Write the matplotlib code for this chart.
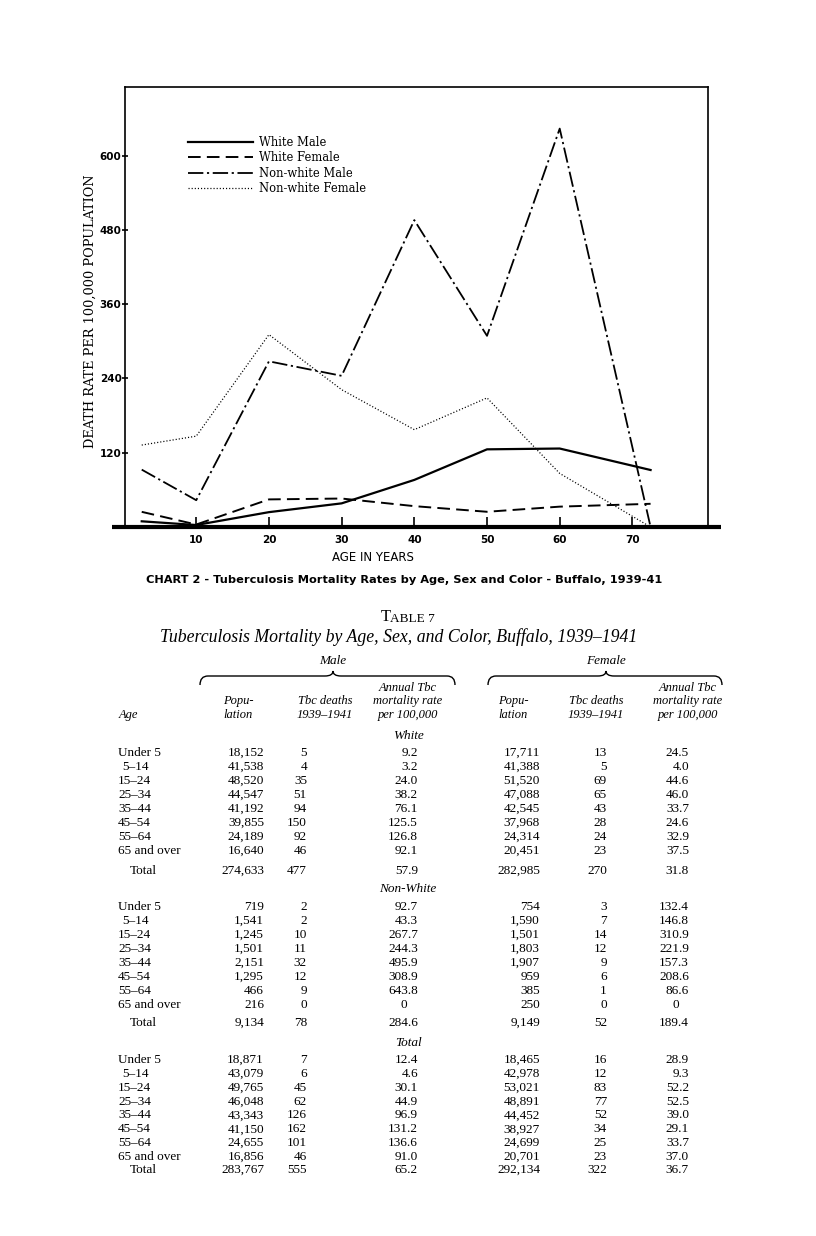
import matplotlib
matplotlib.use("Agg")
import matplotlib.pyplot as plt
from matplotlib.path import Path
from matplotlib.patches import PathPatch

# ---------------- data ----------------
ages = ["Under 5", "5–14", "15–24", "25–34", "35–44", "45–54", "55–64", "65 and over"]
chart_age = [2.5, 10, 20, 30, 40, 50, 60, 72.5]
x_ticks = [10, 20, 30, 40, 50, 60, 70]
y_ticks = [120, 240, 360, 480, 600]

# White
white_male_pop = [18152, 41538, 48520, 44547, 41192, 39855, 24189, 16640]
white_male_deaths = [5, 4, 35, 51, 94, 150, 92, 46]
white_male_rate = [9.2, 3.2, 24.0, 38.2, 76.1, 125.5, 126.8, 92.1]
white_female_pop = [17711, 41388, 51520, 47088, 42545, 37968, 24314, 20451]
white_female_deaths = [13, 5, 69, 65, 43, 28, 24, 23]
white_female_rate = [24.5, 4.0, 44.6, 46.0, 33.7, 24.6, 32.9, 37.5]
white_total = [274633, 477, 57.9, 282985, 270, 31.8]

# Non-white
nonwhite_male_pop = [719, 1541, 1245, 1501, 2151, 1295, 466, 216]
nonwhite_male_deaths = [2, 2, 10, 11, 32, 12, 9, 0]
nonwhite_male_rate = [92.7, 43.3, 267.7, 244.3, 495.9, 308.9, 643.8, 0]
nonwhite_female_pop = [754, 1590, 1501, 1803, 1907, 959, 385, 250]
nonwhite_female_deaths = [3, 7, 14, 12, 9, 6, 1, 0]
nonwhite_female_rate = [132.4, 146.8, 310.9, 221.9, 157.3, 208.6, 86.6, 0]
nonwhite_total = [9134, 78, 284.6, 9149, 52, 189.4]

# Total
total_male_pop = [18871, 43079, 49765, 46048, 43343, 41150, 24655, 16856]
total_male_deaths = [7, 6, 45, 62, 126, 162, 101, 46]
total_male_rate = [12.4, 4.6, 30.1, 44.9, 96.9, 131.2, 136.6, 91.0]
total_female_pop = [18465, 42978, 53021, 48891, 44452, 38927, 24699, 20701]
total_female_deaths = [16, 12, 83, 77, 52, 34, 25, 23]
total_female_rate = [28.9, 9.3, 52.2, 52.5, 39.0, 29.1, 33.7, 37.0]
total_total = [283767, 555, 65.2, 292134, 322, 36.7]

# ---------------- figure ----------------
W, H = 816, 1236
fig = plt.figure(figsize=(W / 100, H / 100), dpi=100)
fig.patch.set_facecolor("white")


def fx(x):
    return x / W


def fy(y):
    return 1 - y / H


# ---------------- chart ----------------
AX_L, AX_R, AX_T, AX_B = 125, 708, 87, 527
ax = fig.add_axes([fx(AX_L), fy(AX_B), (AX_R - AX_L) / W, (AX_B - AX_T) / H])
ax.set_xlim(0.2, 80.4)
ax.set_ylim(0, 711)
for s in ["left", "top", "right"]:
    ax.spines[s].set_linewidth(1.2)
ax.spines["bottom"].set_visible(False)
ax.plot([-1.58, 82.2], [0, 0], color="black", lw=3.0, clip_on=False,
        solid_capstyle="butt", zorder=5)

ax.plot(chart_age, white_male_rate, color="black", lw=1.6, label="White Male")
ax.plot(chart_age, white_female_rate, color="black", lw=1.4,
        dashes=(6.5, 3.2), label="White Female")
ax.plot(chart_age, nonwhite_male_rate, color="black", lw=1.3,
        dashes=(8.5, 2.0, 1.2, 2.0), label="Non-white Male")
ax.plot(chart_age, nonwhite_female_rate, color="black", lw=0.9,
        dashes=(0.9, 1.6), label="Non-white Female")

ax.set_xticks(x_ticks)
ax.set_yticks(y_ticks)
ax.tick_params(axis="y", direction="inout", length=5, width=1.2, labelsize=7.5, pad=0)
ax.tick_params(axis="x", direction="in", length=7, width=1.2, labelsize=7.5, pad=6)
for lab in ax.get_xticklabels() + ax.get_yticklabels():
    lab.set_fontfamily("DejaVu Sans")
    lab.set_fontweight("bold")

ax.set_ylabel("DEATH RATE PER 100,000 POPULATION", fontsize=9.3,
              family="DejaVu Serif")
ax.yaxis.set_label_coords(-(AX_L - 97) / (AX_R - AX_L), (AX_B - 311) / (AX_B - AX_T))
ax.set_xlabel("AGE IN YEARS", fontsize=8.5, family="DejaVu Sans")
ax.xaxis.set_label_coords((373 - AX_L) / (AX_R - AX_L), -(551 - AX_B) / (AX_B - AX_T))

leg = ax.legend(loc="upper left", bbox_to_anchor=(fx(188), fy(136)),
                bbox_transform=fig.transFigure, frameon=False,
                prop={"family": "DejaVu Serif", "size": 8.3},
                handlelength=5.6, handletextpad=0.6, labelspacing=0.2,
                borderpad=0, borderaxespad=0)

fig.text(fx(404), fy(580), "CHART 2 - Tuberculosis Mortality Rates by Age, Sex and Color - Buffalo, 1939-41",
         ha="center", va="center", fontsize=8.2, family="DejaVu Sans", fontweight="bold")

# ---------------- table ----------------
serif = "Liberation Serif"
fig.text(fx(381), fy(617), "T", ha="left", va="center", fontsize=12, family=serif)
fig.text(fx(390), fy(618.5), "ABLE 7", ha="left", va="center", fontsize=9.5, family=serif)
fig.text(fx(399), fy(637), "Tuberculosis Mortality by Age, Sex, and Color, Buffalo, 1939–1941",
         ha="center", va="center", fontsize=12.8, family=serif, style="italic")

fig.text(fx(333), fy(661), "Male", ha="center", va="center", fontsize=9.5, family=serif, style="italic")
fig.text(fx(606), fy(661), "Female", ha="center", va="center", fontsize=9.5, family=serif, style="italic")


def brace(x0, x1, xm, ytop, yend, tip):
    r = 8
    verts = [(x0, yend), (x0, ytop), (x0 + r, ytop),
             (xm - r, ytop), (xm, ytop), (xm, ytop - tip),
             (xm, ytop), (xm + r, ytop),
             (x1 - r, ytop), (x1, ytop), (x1, yend)]
    codes = [Path.MOVETO, Path.CURVE3, Path.CURVE3,
             Path.LINETO, Path.CURVE3, Path.CURVE3,
             Path.CURVE3, Path.CURVE3,
             Path.LINETO, Path.CURVE3, Path.CURVE3]
    verts = [(fx(a), fy(b)) for a, b in verts]
    fig.add_artist(PathPatch(Path(verts, codes), transform=fig.transFigure,
                             fill=False, lw=1.0, color="black"))


brace(200, 455, 333, 676, 685, 5)
brace(488, 722, 606, 676, 685, 5)

hdr = dict(ha="center", va="center", fontsize=9, family=serif, style="italic")
fig.text(fx(128), fy(715), "Age", **hdr)
for xc in (238, 513):
    fig.text(fx(xc), fy(701), "Popu-", **hdr)
    fig.text(fx(xc), fy(715), "lation", **hdr)
for xc in (325, 596):
    fig.text(fx(xc), fy(701), "Tbc deaths", **hdr)
    fig.text(fx(xc), fy(715), "1939–1941", **hdr)
for xc in (408, 688):
    fig.text(fx(xc), fy(688), "Annual Tbc", **hdr)
    fig.text(fx(xc), fy(701), "mortality rate", **hdr)
    fig.text(fx(xc), fy(715), "per 100,000", **hdr)

col_right = [264, 307, 418, 540, 607, 689]
zero_center = [None, None, 404, None, None, 676]


def fmt_pop(v):
    return f"{v:,}"


def fmt_rate(v):
    return "0" if v == 0 else f"{v:.1f}"


row_kw = dict(va="center", fontsize=9.5, family=serif)


def section(title, y_title, y0, y_total, cols, totals):
    fig.text(fx(408), fy(y_title), title, ha="center", va="center",
             fontsize=9.5, family=serif, style="italic")
    step = (y0[1] - y0[0]) / 7
    for i, age in enumerate(ages):
        y = y0[0] + i * step
        xa = 122 if age == "5–14" else 118
        fig.text(fx(xa), fy(y), age, ha="left", **row_kw)
        vals = [fmt_pop(cols[0][i]), str(cols[1][i]), fmt_rate(cols[2][i]),
                fmt_pop(cols[3][i]), str(cols[4][i]), fmt_rate(cols[5][i])]
        for j, s in enumerate(vals):
            if s == "0" and zero_center[j] is not None:
                fig.text(fx(zero_center[j]), fy(y), s, ha="center", **row_kw)
            else:
                fig.text(fx(col_right[j]), fy(y), s, ha="right", **row_kw)
    fig.text(fx(130), fy(y_total), "Total", ha="left", **row_kw)
    tv = [fmt_pop(totals[0]), str(totals[1]), fmt_rate(totals[2]),
          fmt_pop(totals[3]), str(totals[4]), fmt_rate(totals[5])]
    for j, s in enumerate(tv):
        fig.text(fx(col_right[j]), fy(y_total), s, ha="right", **row_kw)


section("White", 736, (753, 851), 871,
        [white_male_pop, white_male_deaths, white_male_rate,
         white_female_pop, white_female_deaths, white_female_rate], white_total)
section("Non-White", 889, (907, 1005), 1023,
        [nonwhite_male_pop, nonwhite_male_deaths, nonwhite_male_rate,
         nonwhite_female_pop, nonwhite_female_deaths, nonwhite_female_rate], nonwhite_total)
section("Total", 1043, (1060, 1157), 1170,
        [total_male_pop, total_male_deaths, total_male_rate,
         total_female_pop, total_female_deaths, total_female_rate], total_total)

fig.savefig("out.png", dpi=100)
